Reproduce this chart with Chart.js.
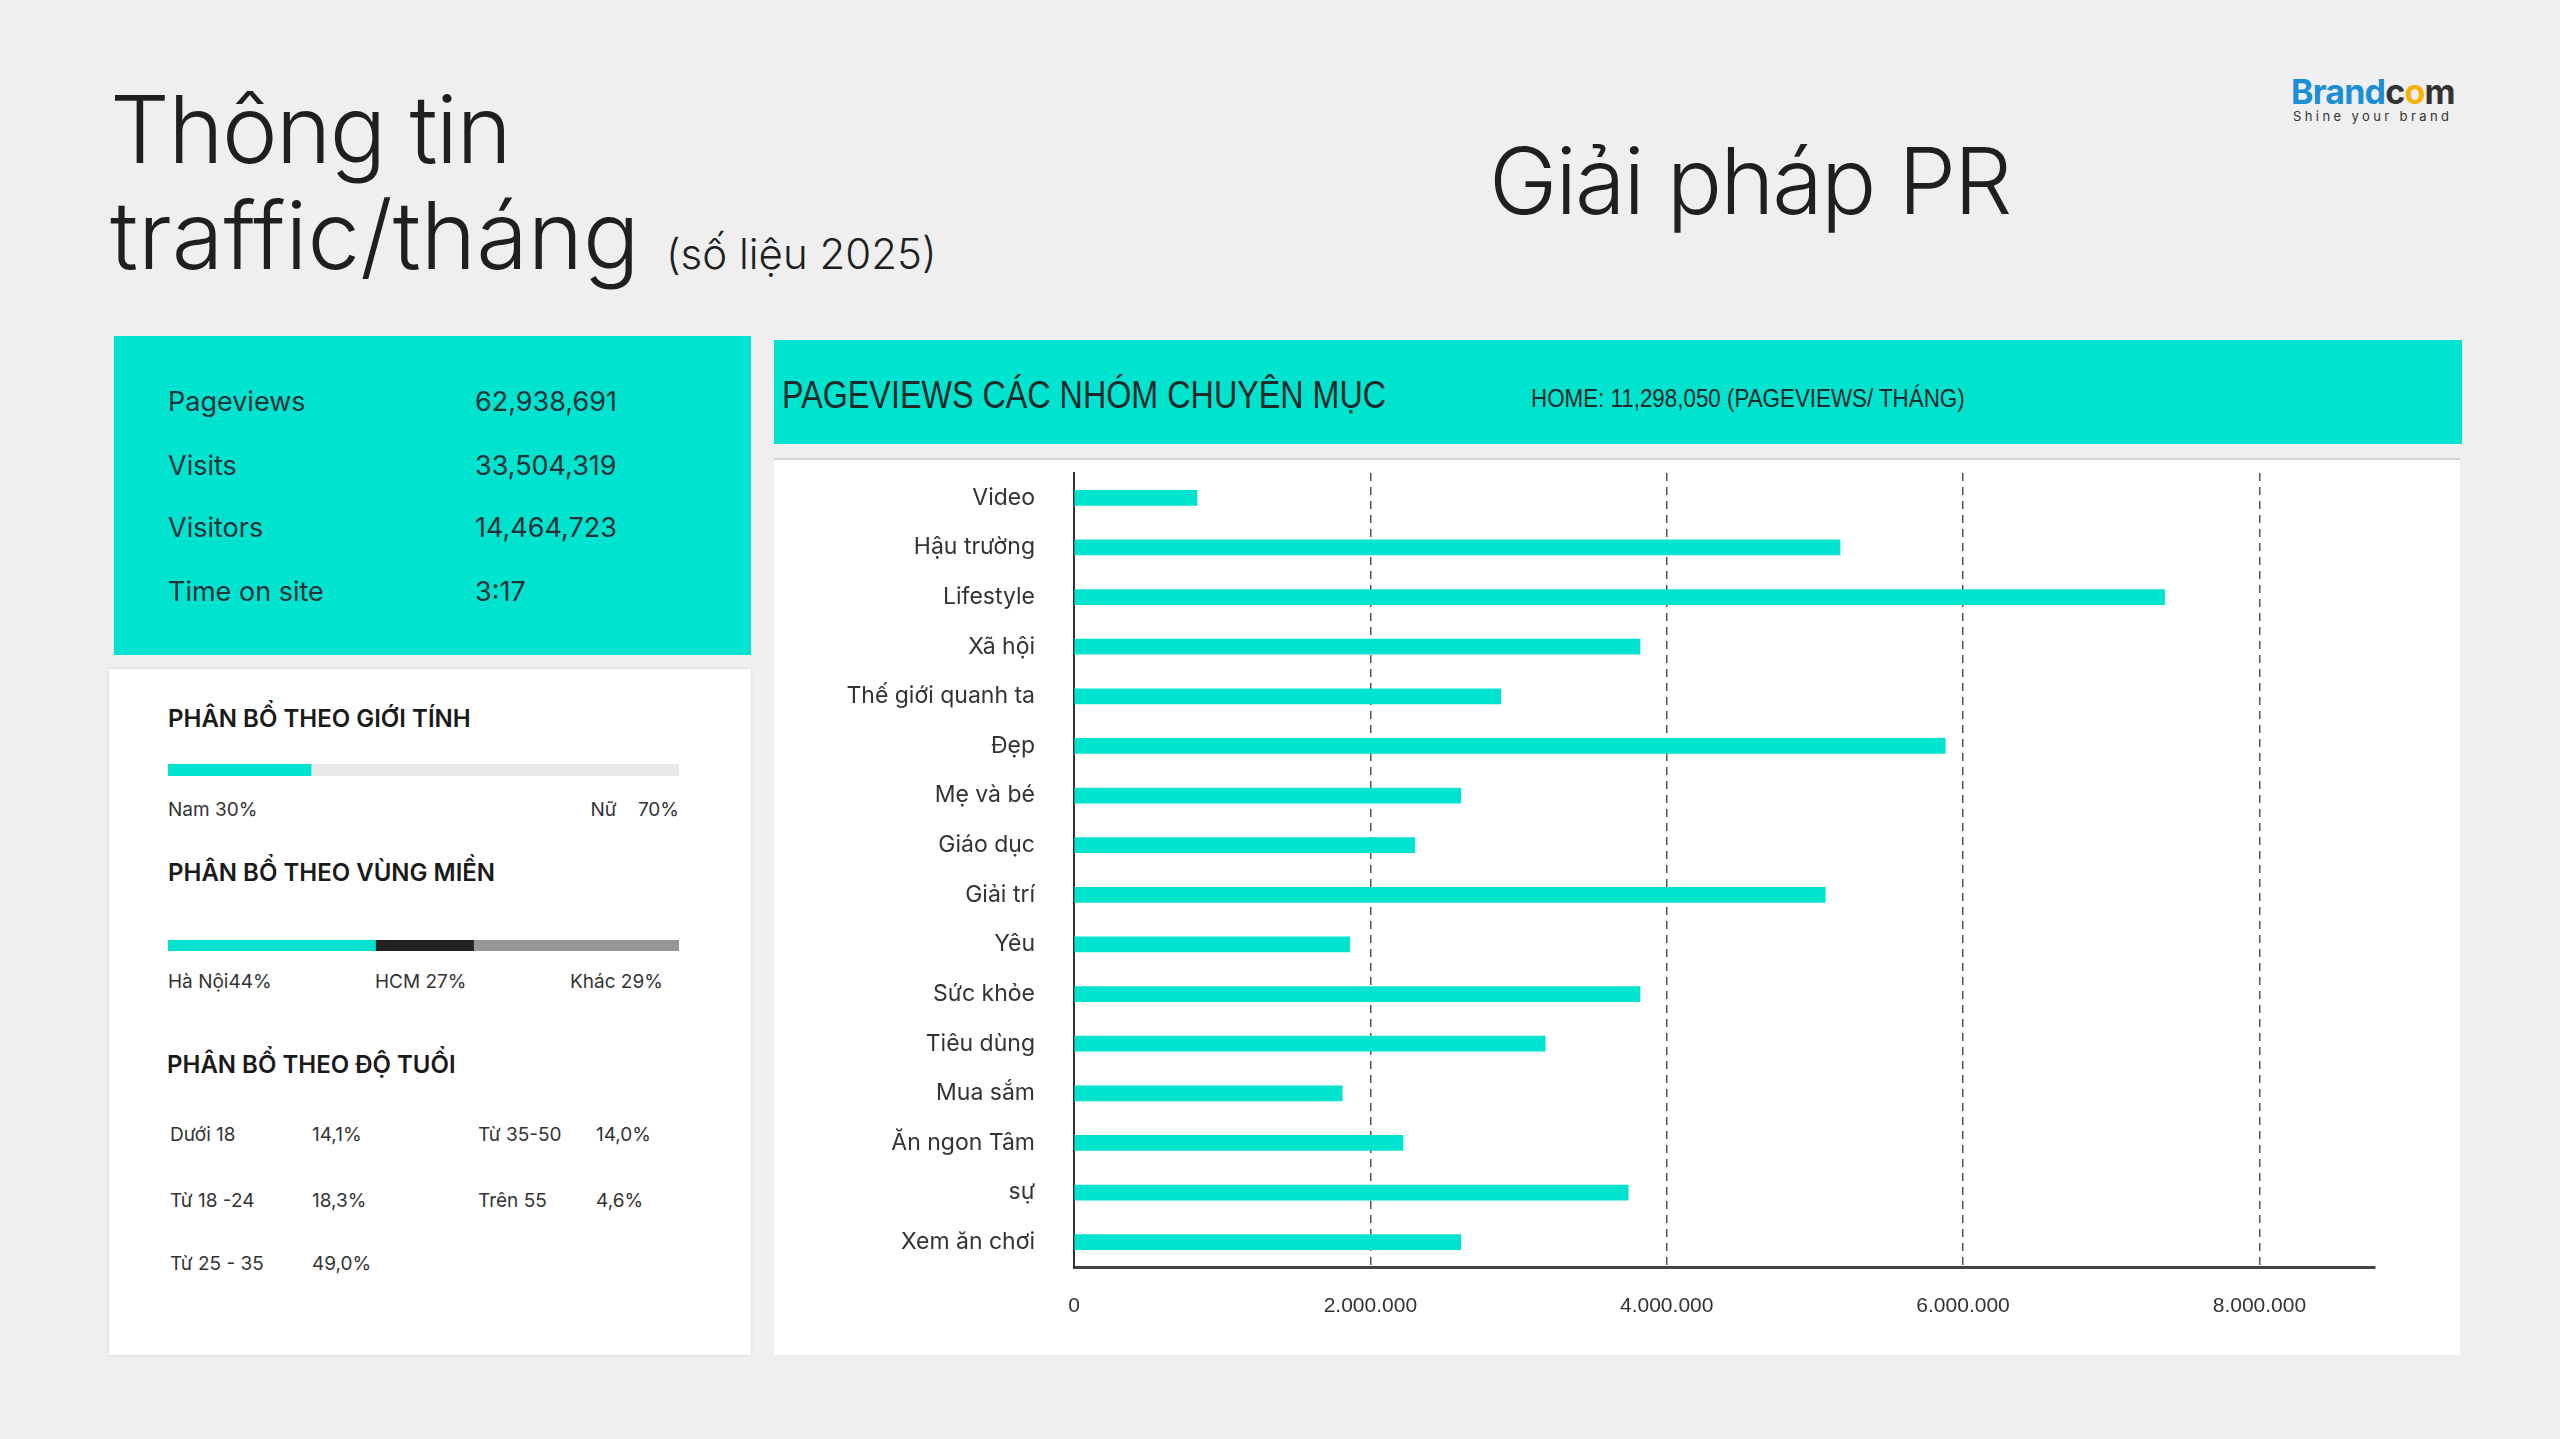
<!DOCTYPE html>
<html lang="vi">
<head>
<meta charset="utf-8">
<title>Thông tin traffic/tháng</title>
<script src="https://cdn.jsdelivr.net/npm/chart.js@4.4.1/dist/chart.umd.min.js"></script>
<style>
  html, body { margin: 0; padding: 0; }
  body {
    width: 2560px; height: 1439px; position: relative; overflow: hidden;
    background: #efefef; color: #222;
    font-family: Inter, "Noto Sans", sans-serif;
  }
  .abs { position: absolute; white-space: pre; line-height: 1; }
  .title { font-size: 94px; font-weight: 300; color: #1f1f1f; }
  .stats { left: 114px; top: 336px; width: 637px; height: 319px; background: #00e3cf; }
  .stat { font-size: 27px; color: #263238; }
  .box { left: 109px; top: 669px; width: 642px; height: 686px; background: #fff; box-shadow: 0 0 3px rgba(0,0,0,0.12); }
  .head { font-size: 24px; font-weight: 600; color: #1a1a1a; }
  .small { font-size: 19px; color: #333; }
  .strip { position: absolute; left: 168px; width: 511px; }
  .chart-head { left: 774px; top: 340px; width: 1688px; height: 104px; background: #00e3cf; }
  .narrow { font-family: "Liberation Sans", Arial, sans-serif; color: #1e2a2a; transform-origin: left center; }
  .chart-box { left: 774px; top: 458px; width: 1686px; height: 895px; background: #fff; border-top: 2px solid #d2d2d2; }
  .chart-wrap { position: absolute; left: 774px; top: 460px; width: 1686px; height: 895px; }
</style>
</head>
<body>

<div class="abs title" style="left:110px; top:82px; letter-spacing:-1.6px;">Thông tin</div>
<div class="abs title" style="left:110px; top:188px;">traffic/tháng</div>
<div class="abs" style="left:666px; top:233px; font-size:42px; font-weight:300; color:#1f1f1f;">(số liệu 2025)</div>
<div class="abs title" style="left:1489px; top:135px; font-size:92px; letter-spacing:-2px;">Giải pháp PR</div>

<div class="abs" style="left:2291px; top:75px; font-size:34px; font-weight:700; letter-spacing:-0.8px;"><span style="color:#1b8fd6;">Brand</span><span style="color:#333;">c</span><span style="color:#f5b300;">o</span><span style="color:#333;">m</span></div>
<div class="abs" style="left:2293px; top:110px; font-size:13px; letter-spacing:3.4px; color:#333;">Shine your brand</div>

<div class="abs stats"></div>
<div class="abs box"></div>

<div class="abs chart-head"></div>
<div class="abs narrow" style="left:782px; top:376px; font-size:38px; transform:scaleX(0.85);">PAGEVIEWS CÁC NHÓM CHUYÊN MỤC</div>
<div class="abs narrow" style="left:1531px; top:385px; font-size:26px; transform:scaleX(0.86);">HOME: 11,298,050 (PAGEVIEWS/ THÁNG)</div>
<div class="abs chart-box"></div>
<div class="chart-wrap"><canvas id="pvChart"></canvas></div>

<div class="strip" style="top:764px; height:12px;"><canvas id="genderStrip"></canvas></div>
<div class="strip" style="top:940px; height:11px;"><canvas id="regionStrip"></canvas></div>

<script>
// số liệu chính
const statNames = ['Pageviews', 'Visits', 'Visitors', 'Time on site'];
const statValues = ['62,938,691', '33,504,319', '14,464,723', '3:17'];

const genderShares = [28, 72];
const genderLabels = ['Nam 30%', 'Nữ    70%'];
const regionShares = [40.6, 19.2, 40.2];
const regionLabels = ['Hà Nội44%', 'HCM 27%', 'Khác 29%'];

const ageGroups = ['Dưới 18', 'Từ 18 -24', 'Từ 25 - 35', 'Từ 35-50', 'Trên 55'];
const ageShares = ['14,1%', '18,3%', '49,0%', '14,0%', '4,6%'];

const categories = ['Video', 'Hậu trường', 'Lifestyle', 'Xã hội', 'Thế giới quanh ta', 'Đẹp',
    'Mẹ và bé', 'Giáo dục', 'Giải trí', 'Yêu', 'Sức khỏe', 'Tiêu dùng', 'Mua sắm',
    'Ăn ngon Tâm', 'sự', 'Xem ăn chơi'];
const pageviews = [830000, 5170000, 7360000, 3820000, 2880000, 5880000,
    2610000, 2300000, 5070000, 1860000, 3820000, 3180000, 1810000,
    2220000, 3740000, 2610000];
const xTicks = [0, 2000000, 4000000, 6000000, 8000000];
const xMax = 8780000;

const TEAL = '#00e3cf';

function addText(cls, text, left, baseline, size) {
    const el = document.createElement('div');
    el.className = 'abs ' + cls;
    el.textContent = text;
    el.style.left = left + 'px';
    el.style.top = Math.round(baseline - size * 0.864) + 'px';
    document.body.appendChild(el);
    return el;
}

// khung số liệu bên trái
const statBase = [411, 475, 537, 601];
statNames.forEach((n, i) => {
    addText('stat', n, 168, statBase[i], 27);
    addText('stat', statValues[i], 475, statBase[i], 27);
});

addText('head', 'PHÂN BỔ THEO GIỚI TÍNH', 168, 728, 24);
addText('small', genderLabels[0], 168, 816, 19);
const nu = addText('small', genderLabels[1], 0, 816, 19);
nu.style.left = 'auto';
nu.style.right = (2560 - 679) + 'px';

addText('head', 'PHÂN BỔ THEO VÙNG MIỀN', 168, 882, 24);
const regionX = [168, 375, 570];
regionLabels.forEach((t, i) => addText('small', t, regionX[i], 988, 19));

addText('head', 'PHÂN BỔ THEO ĐỘ TUỔI', 167, 1074, 24);
const ageRows = [1141, 1207, 1270];
ageGroups.forEach((g, i) => {
    const col = i < 3 ? 0 : 1;
    const row = i < 3 ? i : i - 3;
    addText('small', g, col ? 478 : 170, ageRows[row], 19);
    addText('small', ageShares[i], col ? 596 : 312, ageRows[row], 19);
});

// thanh tỉ lệ nhỏ
function veThanh(id, shares, colors) {
    new Chart(document.getElementById(id), {
        type: 'bar',
        data: {
            labels: [''],
            datasets: shares.map((v, i) => ({
                data: [v],
                backgroundColor: colors[i],
                borderWidth: 0,
                barPercentage: 1,
                categoryPercentage: 1
            }))
        },
        options: {
            indexAxis: 'y',
            responsive: true,
            maintainAspectRatio: false,
            animation: false,
            layout: { padding: 0 },
            plugins: { legend: { display: false }, tooltip: { enabled: false } },
            scales: {
                x: { stacked: true, display: false, min: 0, max: 100 },
                y: { stacked: true, display: false }
            }
        }
    });
}
veThanh('genderStrip', genderShares, [TEAL, '#e9e9e9']);
veThanh('regionStrip', regionShares, [TEAL, '#222222', '#969696']);

// biểu đồ pageviews
const fmt = v => String(v).replace(/\B(?=(\d{3})+(?!\d))/g, '.');

new Chart(document.getElementById('pvChart'), {
    type: 'bar',
    data: {
        labels: categories,
        datasets: [{
            data: pageviews,
            backgroundColor: TEAL,
            borderWidth: 0,
            barThickness: 15
        }]
    },
    options: {
        indexAxis: 'y',
        responsive: true,
        maintainAspectRatio: false,
        animation: false,
        layout: { padding: { top: 13, right: 85, left: 0, bottom: 0 } },
        plugins: { legend: { display: false }, tooltip: { enabled: false } },
        scales: {
            x: {
                type: 'linear',
                min: 0,
                max: xMax,
                afterBuildTicks: s => { s.ticks = xTicks.map(v => ({ value: v })); },
                afterFit: s => {
                    s.height = 88;
                    s.paddingLeft = 0;
                    s.paddingRight = 0;
                },
                ticks: {
                    padding: 27,
                    color: '#333',
                    font: { family: '"Liberation Sans", sans-serif', size: 21 },
                    callback: v => fmt(v)
                },
                grid: {
                    drawTicks: false,
                    lineWidth: 1.5,
                    color: c => (c.tick && c.tick.value === 0) ? 'rgba(0,0,0,0)' : '#555'
                },
                border: { display: true, color: '#444', width: 3, dash: [8, 6] }
            },
            y: {
                afterFit: s => {
                    s.width = 300;
                    s.paddingTop = 0;
                    s.paddingBottom = 0;
                },
                ticks: {
                    padding: 31,
                    color: '#333',
                    font: { family: 'Inter, "Noto Sans", sans-serif', size: 23 }
                },
                grid: { display: false },
                border: { display: true, color: '#333', width: 2 }
            }
        }
    }
});
</script>
</body>
</html>
